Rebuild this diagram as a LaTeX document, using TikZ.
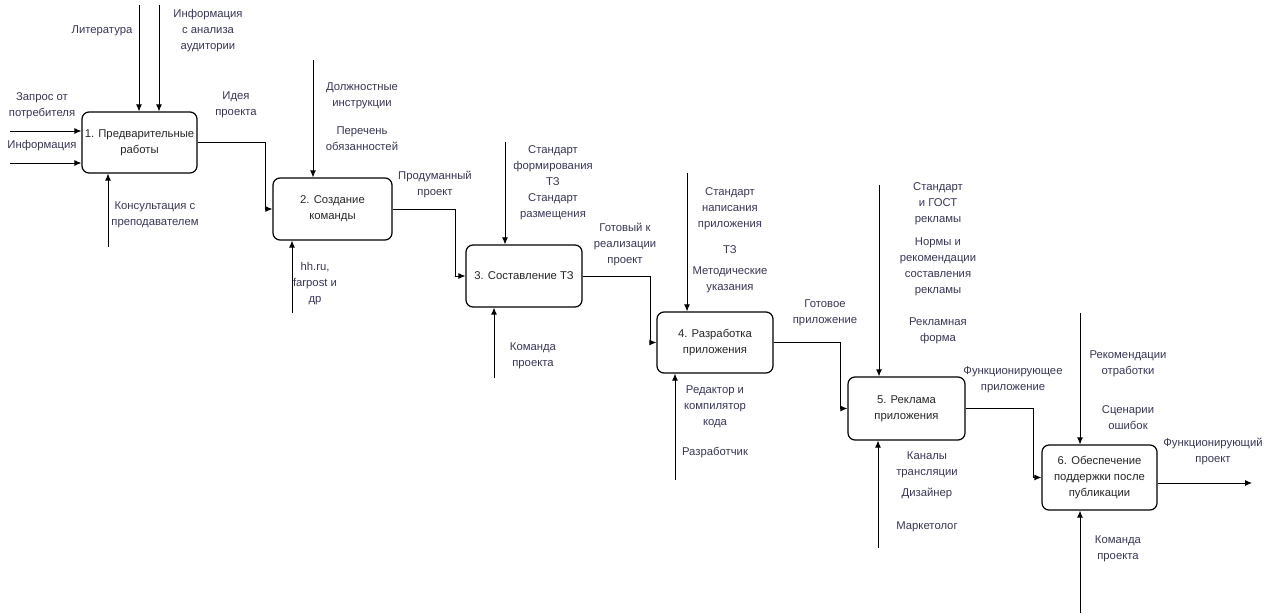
\documentclass[tikz,border=0pt]{standalone}
\usepackage{fontspec}
\setmainfont{Liberation Sans}
\usetikzlibrary{arrows.meta}
\definecolor{lbl}{RGB}{55,55,85}

\begin{document}
\begin{tikzpicture}[x=1pt,y=-1pt,
  every node/.style={font=\fontsize{11.3}{16}\selectfont},
  blk/.style={draw,line width=1.2pt,rounded corners=7pt,align=center,inner sep=2pt,text=black!85},
  lab/.style={text=lbl,align=center},
  arr/.style={draw,line width=0.9pt,-{Latex[length=7pt,width=6pt]}}]
  \useasboundingbox (0,0) rectangle (1279,613);
  % blocks
  \node[blk,minimum width=115pt,minimum height=61pt] (b1) at (139.5,142.5) {1. Предварительные\\работы};
  \node[blk,minimum width=119pt,minimum height=62pt] (b2) at (332.5,209) {2. Создание\\команды};
  \node[blk,minimum width=116pt,minimum height=62pt] (b3) at (524,276) {3. Составление ТЗ};
  \node[blk,minimum width=116pt,minimum height=61pt] (b4) at (715,342.5) {4. Разработка\\приложения};
  \node[blk,minimum width=117pt,minimum height=63pt] (b5) at (906.5,408.5) {5. Реклама\\приложения};
  \node[blk,minimum width=115pt,minimum height=65pt] (b6) at (1099.5,477.5) {6. Обеспечение\\поддержки после\\публикации};
  % inputs of block 1
  \foreach \n/\y in {a/131,b/163} {
    \coordinate (in\n) at (10,\y);
    \draw[arr] (in\n) -- (in\n -| b1.west);
  }
  % controls (from above)
  \foreach \n/\b/\x/\y in {1a/1/139/5,1b/1/159/5,2/2/313/60,3/3/505/142,4/4/687/173,5/5/879/185,6/6/1080/313} {
    \coordinate (ctl\n) at (\x,\y);
    \draw[arr] (ctl\n) -- (ctl\n |- b\b.north);
  }
  % mechanisms (from below)
  \foreach \b/\x/\y in {1/108/247,2/292/313,3/494/378,4/675/480,5/878/548,6/1080/613} {
    \coordinate (mech\b) at (\x,\y);
    \draw[arr] (mech\b) -- (mech\b |- b\b.south);
  }
  % outputs
  \foreach \a/\b/\x in {1/2/265,2/3/455,3/4/650,4/5/840,5/6/1033} {
    \coordinate (turn\a) at (\x,0);
    \draw[arr] (b\a.east) -- (b\a.east -| turn\a) |- (b\b.west);
  }
  \coordinate (out6) at (1252,483);
  \draw[arr] (b6.east |- out6) -- (out6);
  % labels
  \node[lab] (l1) at (102,31) {Литература};
  \node[lab] (l2) at (208,31) {Информация\\с анализа\\аудитории};
  \node[lab] (l3) at (42,106) {Запрос от\\потребителя};
  \node[lab] (l4) at (42,146) {Информация};
  \node[lab] (l5) at (155,215) {Консультация с\\преподавателем};
  \node[lab] (l6) at (236,105) {Идея\\проекта};
  \node[lab] (l7) at (362,96) {Должностные\\инструкции};
  \node[lab] (l8) at (362,139) {Перечень\\обязанностей};
  \node[lab] (l9) at (315,284) {hh.ru,\\farpost и\\др};
  \node[lab] (l10) at (435,184) {Продуманный\\проект};
  \node[lab] (l11) at (553,166) {Стандарт\\формирования\\ТЗ};
  \node[lab] (l12) at (553,207) {Стандарт\\размещения};
  \node[lab] (l13) at (533,356) {Команда\\проекта};
  \node[lab] (l14) at (625,244) {Готовый к\\реализации\\проект};
  \node[lab] (l15) at (730,209) {Стандарт\\написания\\приложения};
  \node[lab] (l16) at (730,250) {ТЗ};
  \node[lab] (l17) at (730,280) {Методические\\указания};
  \node[lab] (l18) at (825,313) {Готовое\\приложение};
  \node[lab] (l19) at (715,407) {Редактор и\\компилятор\\кода};
  \node[lab] (l20) at (715,453) {Разработчик};
  \node[lab] (l21) at (938,204) {Стандарт\\и ГОСТ\\рекламы};
  \node[lab] (l22) at (938,267) {Нормы и\\рекомендации\\составления\\рекламы};
  \node[lab] (l23) at (938,331) {Рекламная\\форма};
  \node[lab] (l24) at (927,465) {Каналы\\трансляции};
  \node[lab] (l25) at (927,493) {Дизайнер};
  \node[lab] (l26) at (927,527) {Маркетолог};
  \node[lab] (l27) at (1013,380) {Функционирующее\\приложение};
  \node[lab] (l28) at (1128,364) {Рекомендации\\отработки};
  \node[lab] (l29) at (1128,418) {Сценарии\\ошибок};
  \node[lab] (l30) at (1213,451) {Функционирующий\\проект};
  \node[lab] (l31) at (1118,549) {Команда\\проекта};
\end{tikzpicture}
\end{document}
